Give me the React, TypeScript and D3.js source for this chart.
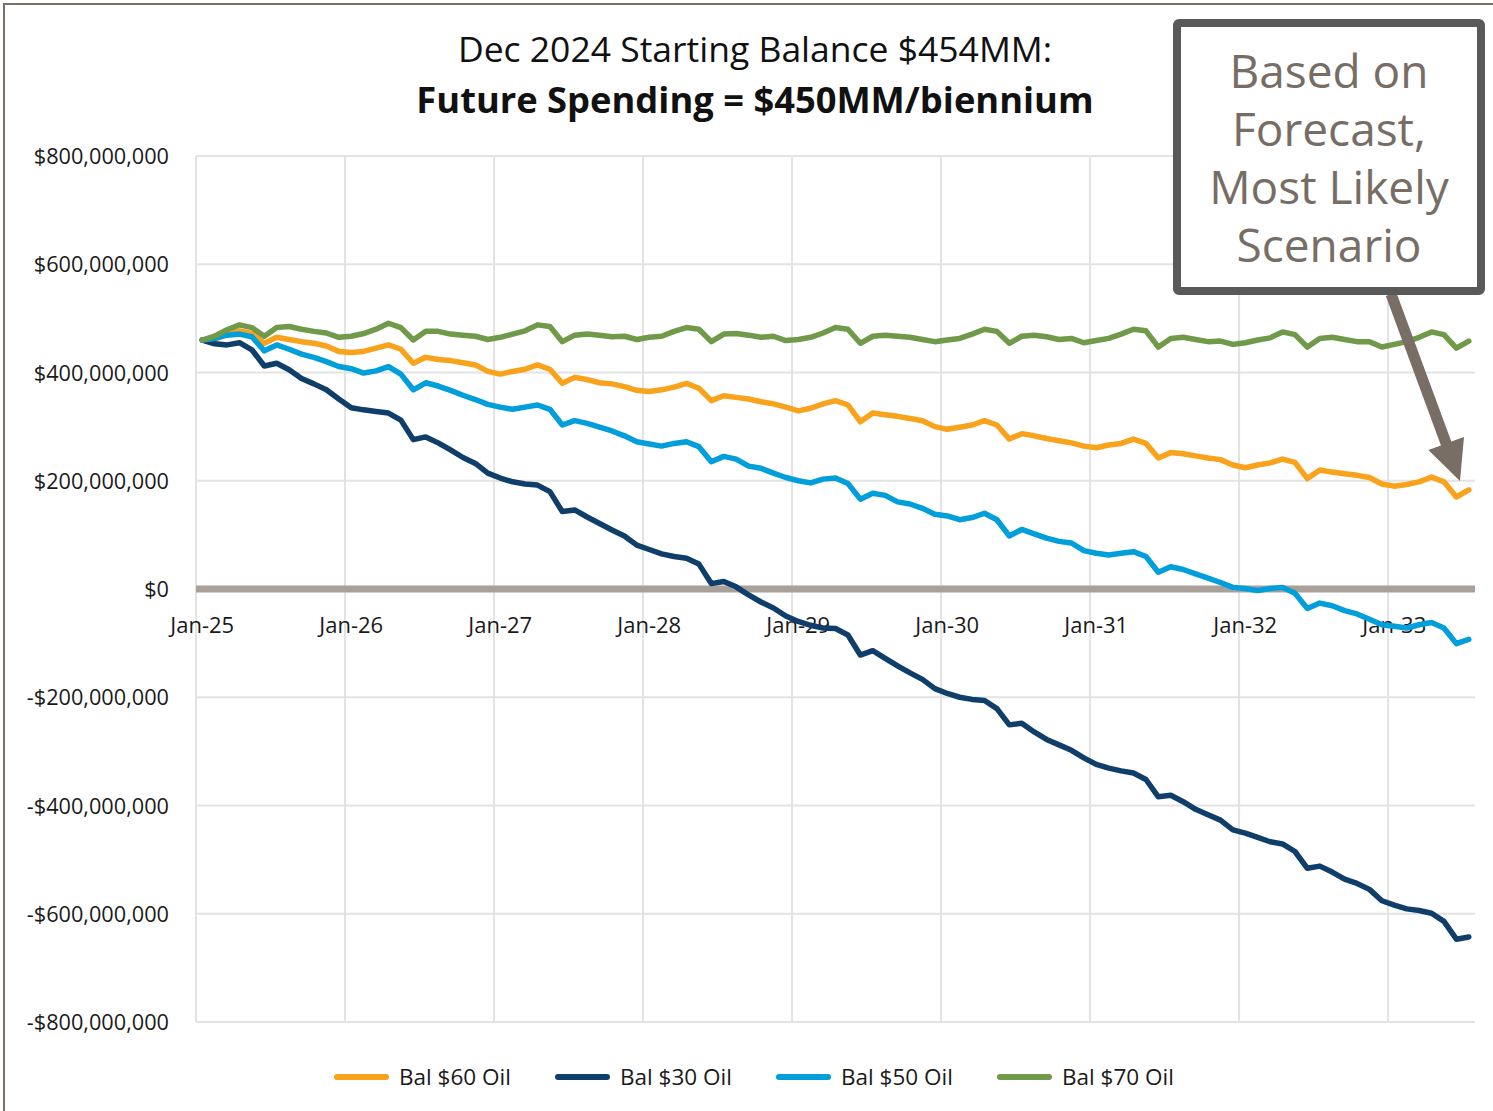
import * as d3 from "d3";

// balances in $ millions, one value per month starting Jan-25
const bal60 = [
  460, 461, 471, 477, 472, 454, 465, 461, 457, 454, 449, 439, 437, 439, 445, 451, 443, 417, 428, 424,
  422, 418, 414, 402, 397, 402, 406, 414, 406, 380, 391, 387, 381, 379, 374, 367, 365, 368, 373, 380,
  371, 348, 357, 354, 351, 346, 342, 336, 329, 334, 342, 348, 340, 309, 325, 322, 319, 315, 311, 300,
  295, 299, 303, 311, 303, 277, 287, 283, 278, 274, 270, 264, 261, 266, 269, 277, 269, 242, 252, 250,
  246, 242, 239, 229, 224, 229, 233, 240, 234, 204, 220, 216, 213, 210, 206, 194, 190, 193, 198, 207,
  198, 170, 183,
];
const bal30 = [
  460, 453, 451, 455, 442, 412, 417, 405, 389, 379, 368, 351, 335, 331, 328, 325, 312, 276, 281, 270,
  257, 243, 232, 214, 205, 198, 194, 192, 180, 143, 146, 133, 121, 109, 98, 81, 73, 65, 60, 57,
  46, 10, 14, 4, -11, -24, -35, -50, -60, -67, -72, -73, -85, -122, -114, -128, -142, -155, -167, -184,
  -193, -200, -204, -206, -221, -251, -248, -264, -278, -288, -298, -312, -324, -331, -336, -340, -352, -384, -381, -393,
  -407, -417, -427, -445, -451, -459, -467, -471, -485, -516, -512, -523, -536, -544, -555, -576, -584, -591, -594, -599,
  -614, -647, -643,
];
const bal50 = [
  460, 463, 469, 471, 466, 440, 451, 443, 434, 428, 420, 411, 407, 399, 403, 411, 397, 368, 381, 375,
  367, 358, 350, 341, 336, 332, 336, 340, 332, 303, 311, 306, 299, 292, 283, 272, 268, 264, 269, 272,
  263, 235, 245, 240, 227, 223, 214, 206, 200, 196, 203, 205, 195, 166, 177, 173, 161, 157, 149, 138,
  135, 128, 132, 140, 128, 98, 110, 102, 94, 88, 85, 71, 66, 63, 66, 69, 60, 31, 41, 36,
  28, 20, 12, 3, 1, -3, 1, 3, -8, -36, -26, -31, -40, -46, -56, -66, -69, -72, -66, -62,
  -72, -101, -93,
];
const bal70 = [
  460, 467, 479, 488, 483, 467, 483, 485, 480, 476, 473, 465, 467, 472, 480, 491, 483, 460, 476, 476,
  471, 469, 467, 461, 465, 471, 477, 488, 485, 457, 469, 471, 469, 466, 467, 461, 465, 467, 476, 483,
  480, 457, 471, 472, 469, 465, 467, 459, 461, 465, 473, 483, 480, 454, 467, 469, 467, 465, 461, 457,
  460, 463, 471, 480, 476, 454, 467, 469, 466, 461, 463, 455, 459, 463, 471, 480, 477, 447, 463, 465,
  461, 457, 458, 452, 455, 460, 464, 475, 470, 447, 463, 465, 461, 457, 457, 447, 452, 457, 465, 475,
  470, 445, 458,
];

const xTickLabels = ["Jan-25", "Jan-26", "Jan-27", "Jan-28", "Jan-29", "Jan-30", "Jan-31", "Jan-32", "Jan-33"];
const yTicks = [800, 600, 400, 200, 0, -200, -400, -600, -800];
const boxLines = ["Based on", "Forecast,", "Most Likely", "Scenario"];

const series = [
  { name: "Bal $60 Oil", values: bal60, color: "#f9a21b" },
  { name: "Bal $30 Oil", values: bal30, color: "#0e3e69" },
  { name: "Bal $50 Oil", values: bal50, color: "#009fdb" },
  { name: "Bal $70 Oil", values: bal70, color: "#70994a" },
];

const W = 1493;
const H = 1111;
const font = "'Open Sans', 'Noto Sans', sans-serif";

export default function App() {
  const nMonths = bal60.length;
  const x = d3.scaleLinear().domain([0, nMonths]).range([196, 1475]);
  const y = d3.scaleLinear().domain([-800, 800]).range([1022, 156]);
  const line = d3
    .line<number>()
    .x((_, i) => x(i + 0.5))
    .y((v) => y(v));

  const fmt = d3.format(",");
  const yLabel = (v: number) => (v < 0 ? "-" : "") + "$" + fmt(Math.abs(v) * 1e6);

  // arrow from the box down to the end of the $60 line
  const tail: [number, number] = [1391, 294];
  const tip: [number, number] = [1460, 481];
  const dx = tip[0] - tail[0];
  const dy = tip[1] - tail[1];
  const len = Math.hypot(dx, dy);
  const ux = dx / len;
  const uy = dy / len;
  const headLen = 40;
  const headHalf = 19;
  const shaftHalf = 5.5;
  const bx = tip[0] - ux * headLen;
  const by = tip[1] - uy * headLen;
  const arrowPts = [
    [tail[0] - uy * shaftHalf, tail[1] + ux * shaftHalf],
    [bx - uy * shaftHalf, by + ux * shaftHalf],
    [bx - uy * headHalf, by + ux * headHalf],
    tip,
    [bx + uy * headHalf, by - ux * headHalf],
    [bx + uy * shaftHalf, by - ux * shaftHalf],
    [tail[0] + uy * shaftHalf, tail[1] - ux * shaftHalf],
  ];

  const legendX = [335, 556, 777, 998];

  return (
    <div style={{ position: "absolute", left: 0, top: 0 }}>
      <svg width={W} height={H} style={{ display: "block", fontFamily: font }}>
        <rect x={0} y={0} width={W} height={H} fill="#fff" />
        <rect x={4} y={4} width={W + 20} height={H + 20} fill="none" stroke="#7a716b" strokeWidth={2} />

        {/* title */}
        <text x={755} y={62} textAnchor="middle" fontSize={35.5} fill="#111">
          Dec 2024 Starting Balance $454MM:
        </text>
        <text x={755} y={113} textAnchor="middle" fontSize={36.3} fontWeight="bold" fill="#111">
          Future Spending = $450MM/biennium
        </text>

        {/* gridlines */}
        {yTicks.map((t) =>
          t === 0 ? null : (
            <line key={"gy" + t} x1={196} x2={1475} y1={y(t)} y2={y(t)} stroke="#e3e3e3" strokeWidth={2} />
          )
        )}
        {xTickLabels.map((_, k) => (
          <line key={"gx" + k} x1={x(k * 12)} x2={x(k * 12)} y1={156} y2={1022} stroke="#e3e3e3" strokeWidth={2} />
        ))}
        <line x1={196} x2={1475} y1={y(0)} y2={y(0)} stroke="#a9a09a" strokeWidth={7} />

        {/* y labels */}
        {yTicks.map((t) => (
          <text key={"ly" + t} x={169} y={y(t) + 8} textAnchor="end" fontSize={21.7} fill="#1a1a1a">
            {yLabel(t)}
          </text>
        ))}
        {/* x labels */}
        {xTickLabels.map((l, k) => (
          <text key={"lx" + l} x={x(k * 12 + 0.5)} y={633} textAnchor="middle" fontSize={22} fill="#1a1a1a">
            {l}
          </text>
        ))}

        {/* series */}
        {series.map((s) => (
          <path
            key={s.name}
            d={line(s.values) || ""}
            fill="none"
            stroke={s.color}
            strokeWidth={5.5}
            strokeLinejoin="round"
            strokeLinecap="round"
          />
        ))}

        {/* legend */}
        {series.map((s, i) => (
          <g key={"lg" + s.name} transform={`translate(${legendX[i]},1077)`}>
            <line x1={2} x2={51} y1={0} y2={0} stroke={s.color} strokeWidth={6} strokeLinecap="round" />
            <text x={64} y={8} fontSize={22.5} fill="#1a1a1a">
              {s.name}
            </text>
          </g>
        ))}

        {/* annotation */}
        <polygon points={arrowPts.map((p) => p.join(",")).join(" ")} fill="#786e66" />
        <rect x={1177} y={23} width={304} height={268} rx={2} fill="#fff" stroke="#595959" strokeWidth={8} />
        {boxLines.map((l, i) => (
          <text key={l} x={1329} y={88 + i * 58} textAnchor="middle" fontSize={46} fill="#776d65">
            {l}
          </text>
        ))}
      </svg>
    </div>
  );
}
